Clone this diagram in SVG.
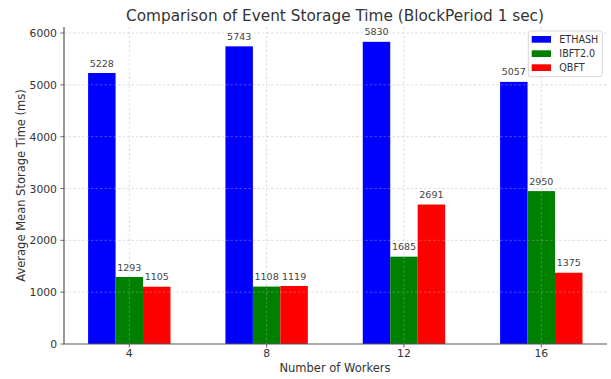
<svg xmlns="http://www.w3.org/2000/svg" width="611" height="379" viewBox="0 0 611 379">
<style>
text{font-family:"DejaVu Sans","Liberation Sans",sans-serif;fill:#333}
.title{font-size:15.3px;text-anchor:middle}
.axl{font-size:11.5px;text-anchor:middle}
.tk{font-size:10.8px}
.tky{text-anchor:end}
.tkx{text-anchor:middle}
.val{font-size:9.5px;text-anchor:middle;fill:#444}
.leg{font-size:9.6px}
.grid{stroke:#b0b0b0;stroke-opacity:0.6;stroke-width:0.7;stroke-dasharray:2.5,2;fill:none}
.spine{stroke:#555;stroke-width:1.2;fill:none}
.tick{stroke:#555;stroke-width:0.9}
.eth{fill:#0000ff}
.ibft{fill:#008000}
.qbft{fill:#ff0000}
</style>
<rect width="611" height="379" fill="#fff"/>
<text class="title" x="335" y="20.5">Comparison of Event Storage Time (BlockPeriod 1 sec)</text>

<g id="bars">
<g id="g4">
<rect class="eth" x="88.1" y="73.0" width="27.47" height="271.0"/>
<rect class="ibft" x="115.57" y="277.0" width="27.47" height="67.0"/>
<rect class="qbft" x="143.03" y="286.73" width="27.47" height="57.27"/>
</g>
<g id="g8">
<rect class="eth" x="225.43" y="46.34" width="27.47" height="297.66"/>
<rect class="ibft" x="252.9" y="286.57" width="27.47" height="57.43"/>
<rect class="qbft" x="280.36" y="286.0" width="27.47" height="58.0"/>
</g>
<g id="g12">
<rect class="eth" x="362.76" y="41.83" width="27.47" height="302.17"/>
<rect class="ibft" x="390.23" y="256.67" width="27.47" height="87.33"/>
<rect class="qbft" x="417.69" y="204.53" width="27.47" height="139.47"/>
</g>
<g id="g16">
<rect class="eth" x="500.09" y="81.9" width="27.47" height="262.1"/>
<rect class="ibft" x="527.56" y="191.1" width="27.47" height="152.9"/>
<rect class="qbft" x="555.02" y="272.73" width="27.47" height="71.27"/>
</g>
</g>

<g id="grid">
<path class="grid" d="M64 292.17H607M64 240.34H607M64 188.51H607M64 136.68H607M64 84.85H607M64 33.02H607"/>
<path class="grid" d="M129.3 27V344M266.63 27V344M403.96 27V344M541.29 27V344"/>
</g>

<g id="values">
<text class="val" x="101.8" y="66.5">5228</text>
<text class="val" x="129.3" y="270.5">1293</text>
<text class="val" x="156.8" y="280.2">1105</text>
<text class="val" x="239.2" y="39.8">5743</text>
<text class="val" x="266.6" y="280.1">1108</text>
<text class="val" x="294.1" y="279.5">1119</text>
<text class="val" x="376.5" y="35.3">5830</text>
<text class="val" x="404.0" y="250.2">1685</text>
<text class="val" x="431.4" y="198.0">2691</text>
<text class="val" x="513.8" y="75.4">5057</text>
<text class="val" x="541.3" y="184.6">2950</text>
<text class="val" x="568.8" y="266.2">1375</text>
</g>

<g id="axes">
<path class="spine" d="M64 27V344H607"/>
<path class="tick" d="M60.5 344H64M60.5 292.17H64M60.5 240.34H64M60.5 188.51H64M60.5 136.68H64M60.5 84.85H64M60.5 33.02H64"/>
<path class="tick" d="M129.3 344V347.5M266.63 344V347.5M403.96 344V347.5M541.29 344V347.5"/>
<text class="tk tky" x="57" y="348">0</text>
<text class="tk tky" x="57" y="296.2">1000</text>
<text class="tk tky" x="57" y="244.3">2000</text>
<text class="tk tky" x="57" y="192.5">3000</text>
<text class="tk tky" x="57" y="140.7">4000</text>
<text class="tk tky" x="57" y="88.9">5000</text>
<text class="tk tky" x="57" y="37">6000</text>
<text class="tk tkx" x="129.3" y="357">4</text>
<text class="tk tkx" x="266.63" y="357">8</text>
<text class="tk tkx" x="403.96" y="357">12</text>
<text class="tk tkx" x="541.29" y="357">16</text>
<text class="axl" x="335" y="372">Number of Workers</text>
<text class="axl" transform="translate(24.5 185.5) rotate(-90)">Average Mean Storage Time (ms)</text>
</g>

<g id="legend">
<rect x="528.3" y="31" width="74" height="45.7" rx="2.5" fill="#fff" fill-opacity="0.8" stroke="#ccc" stroke-width="0.8"/>
<rect class="eth" x="531.7" y="36" width="19.3" height="6.7"/>
<rect class="ibft" x="531.7" y="50.3" width="19.3" height="6.7"/>
<rect class="qbft" x="531.7" y="64.3" width="19.3" height="6.7"/>
<text class="leg" x="559.3" y="42.8">ETHASH</text>
<text class="leg" x="559.3" y="57.1">IBFT2.0</text>
<text class="leg" x="559.3" y="71.1">QBFT</text>
</g>
</svg>
